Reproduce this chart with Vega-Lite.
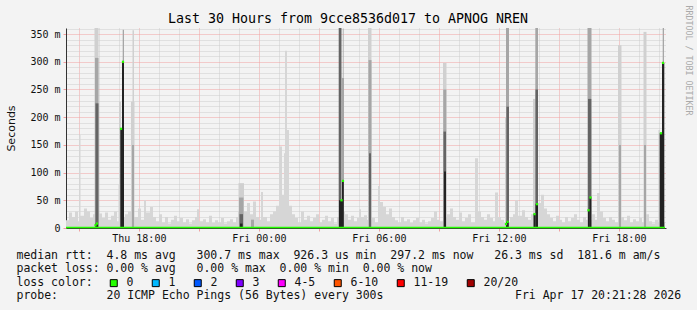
{
  "$schema": "https://vega.github.io/schema/vega-lite/v6.json",
  "width": 600,
  "height": 200,
  "autosize": {"type": "none"},
  "padding": {"left": 66, "top": 28, "right": 31, "bottom": 82},
  "background": "#f3f3f3",
  "config": {"view": {"stroke": null}, "font": "DejaVu Sans Mono"},
  "title": {"text": "Last 30 Hours from 9cce8536d017 to APNOG NREN", "font": "DejaVu Sans Mono", "fontSize": 13.3, "fontWeight": "normal", "color": "#000000", "anchor": "middle", "frame": "group", "dx": -18, "dy": 31, "offset": 0, "baseline": "alphabetic"},
  "datasets": {
    "bg": [
      {"h":14.358,"v":14},{"h":14.508,"v":28},{"h":14.658,"v":20},{"h":14.808,"v":30},{"h":14.958,"v":12},{"h":15.008,"v":168},{"h":15.083,"v":22},{"h":15.258,"v":35},{"h":15.408,"v":30},{"h":15.558,"v":18},{"h":15.708,"v":25},{"h":15.858,"v":30},{"h":16.008,"v":26},{"h":16.158,"v":18},{"h":16.308,"v":28},{"h":16.458,"v":15},{"h":16.608,"v":22},{"h":16.758,"v":30},{"h":16.908,"v":12},{"h":16.983,"v":78},{"h":17.058,"v":20},{"h":17.308,"v":25},{"h":17.458,"v":30},{"h":17.608,"v":20},{"h":17.808,"v":20},{"h":17.958,"v":35},{"h":18.108,"v":15},{"h":18.258,"v":50},{"h":18.358,"v":28},{"h":18.558,"v":38},{"h":18.708,"v":20},{"h":18.858,"v":12},{"h":19.008,"v":25},{"h":19.158,"v":10},{"h":19.308,"v":20},{"h":19.458,"v":8},{"h":19.608,"v":15},{"h":19.758,"v":22},{"h":19.908,"v":12},{"h":20.058,"v":18},{"h":20.208,"v":10},{"h":20.358,"v":16},{"h":20.508,"v":8},{"h":20.658,"v":14},{"h":20.808,"v":20},{"h":20.908,"v":34},{"h":21.008,"v":12},{"h":21.208,"v":16},{"h":21.358,"v":10},{"h":21.508,"v":22},{"h":21.658,"v":9},{"h":21.808,"v":14},{"h":21.958,"v":10},{"h":22.108,"v":18},{"h":22.258,"v":8},{"h":22.408,"v":12},{"h":22.558,"v":16},{"h":22.708,"v":10},{"h":22.858,"v":20},{"h":22.958,"v":30},{"h":23.258,"v":30},{"h":23.408,"v":45},{"h":23.558,"v":25},{"h":23.708,"v":48},{"h":23.858,"v":20},{"h":24.008,"v":15},{"h":24.108,"v":65},{"h":24.208,"v":20},{"h":24.408,"v":12},{"h":24.558,"v":25},{"h":24.708,"v":30},{"h":24.858,"v":40},{"h":25.008,"v":147},{"h":25.158,"v":60},{"h":25.258,"v":135},{"h":25.308,"v":320},{"h":25.408,"v":177},{"h":25.508,"v":40},{"h":25.658,"v":25},{"h":25.808,"v":18},{"h":25.958,"v":10},{"h":26.108,"v":30},{"h":26.258,"v":15},{"h":26.408,"v":22},{"h":26.558,"v":12},{"h":26.708,"v":18},{"h":26.858,"v":25},{"h":27.008,"v":10},{"h":27.158,"v":15},{"h":27.308,"v":22},{"h":27.458,"v":12},{"h":27.608,"v":18},{"h":27.758,"v":8},{"h":27.908,"v":20},{"h":28.008,"v":30},{"h":28.308,"v":25},{"h":28.458,"v":15},{"h":28.608,"v":22},{"h":28.758,"v":12},{"h":28.908,"v":18},{"h":29.008,"v":34},{"h":29.108,"v":20},{"h":29.258,"v":23},{"h":29.408,"v":15},{"h":29.658,"v":18},{"h":29.808,"v":10},{"h":29.958,"v":76},{"h":30.058,"v":47},{"h":30.208,"v":38},{"h":30.358,"v":25},{"h":30.508,"v":35},{"h":30.658,"v":20},{"h":30.808,"v":14},{"h":30.958,"v":10},{"h":31.108,"v":20},{"h":31.258,"v":12},{"h":31.408,"v":16},{"h":31.558,"v":9},{"h":31.708,"v":14},{"h":31.858,"v":18},{"h":32.008,"v":10},{"h":32.158,"v":15},{"h":32.308,"v":8},{"h":32.458,"v":12},{"h":32.608,"v":18},{"h":32.758,"v":30},{"h":32.908,"v":15},{"h":33.058,"v":12},{"h":33.208,"v":20},{"h":33.408,"v":25},{"h":33.558,"v":35},{"h":33.708,"v":20},{"h":33.858,"v":15},{"h":34.008,"v":28},{"h":34.158,"v":12},{"h":34.308,"v":18},{"h":34.458,"v":25},{"h":34.608,"v":10},{"h":34.808,"v":126},{"h":34.958,"v":30},{"h":35.108,"v":20},{"h":35.258,"v":15},{"h":35.408,"v":25},{"h":35.558,"v":18},{"h":35.708,"v":12},{"h":35.808,"v":64},{"h":35.958,"v":20},{"h":36.108,"v":15},{"h":36.258,"v":10},{"h":36.558,"v":20},{"h":36.708,"v":25},{"h":36.808,"v":50},{"h":36.958,"v":22},{"h":37.158,"v":32},{"h":37.308,"v":20},{"h":37.458,"v":15},{"h":37.608,"v":25},{"h":37.958,"v":45},{"h":38.108,"v":60},{"h":38.258,"v":35},{"h":38.408,"v":25},{"h":38.558,"v":18},{"h":38.708,"v":12},{"h":38.858,"v":22},{"h":39.008,"v":15},{"h":39.158,"v":10},{"h":39.308,"v":20},{"h":39.458,"v":12},{"h":39.608,"v":18},{"h":39.758,"v":25},{"h":39.908,"v":15},{"h":40.058,"v":10},{"h":40.208,"v":20},{"h":40.358,"v":15},{"h":40.658,"v":25},{"h":40.808,"v":15},{"h":40.908,"v":63},{"h":41.058,"v":30},{"h":41.208,"v":18},{"h":41.358,"v":12},{"h":41.508,"v":20},{"h":41.658,"v":15},{"h":41.808,"v":10},{"h":41.958,"v":20},{"h":42.108,"v":20},{"h":42.258,"v":14},{"h":42.408,"v":22},{"h":42.558,"v":10},{"h":42.708,"v":16},{"h":42.858,"v":12},{"h":43.008,"v":18},{"h":43.158,"v":10},{"h":43.358,"v":25},{"h":43.508,"v":12},{"h":43.658,"v":8},{"h":43.808,"v":15},{"h":43.958,"v":10},{"h":44.308,"v":0}
    ],
    "smoke": [
      {"h":15.783,"h2":15.983,"lo":0,"hi":361,"band":"a"},{"h":15.808,"h2":15.983,"lo":0,"hi":307,"band":"b"},{"h":15.833,"h2":15.983,"lo":0,"hi":225,"band":"c"},{"h":15.833,"h2":15.958,"lo":0,"hi":8,"band":"d"},
      {"h":17.008,"h2":17.108,"lo":0,"hi":228,"band":"a"},{"h":17.073,"h2":17.158,"lo":0,"hi":179,"band":"d"},{"h":17.158,"h2":17.258,"lo":0,"hi":300,"band":"d"},{"h":17.193,"h2":17.258,"lo":300,"hi":358,"band":"b"},
      {"h":17.608,"h2":17.783,"lo":0,"hi":228,"band":"a"},{"h":17.683,"h2":17.758,"lo":0,"hi":357,"band":"a"},{"h":17.658,"h2":17.758,"lo":0,"hi":150,"band":"b"},
      {"h":22.983,"h2":23.258,"lo":0,"hi":81,"band":"a"},{"h":23.008,"h2":23.233,"lo":0,"hi":55,"band":"b"},{"h":23.033,"h2":23.208,"lo":0,"hi":25,"band":"c"},{"h":23.058,"h2":23.183,"lo":0,"hi":8,"band":"d"},{"h":23.608,"h2":23.758,"lo":0,"hi":15,"band":"b"},
      {"h":27.993,"h2":28.133,"lo":0,"hi":361,"band":"c"},{"h":28.133,"h2":28.258,"lo":0,"hi":271,"band":"b"},{"h":28.198,"h2":28.238,"lo":271,"hi":360,"band":"b"},{"h":28.008,"h2":28.158,"lo":0,"hi":50,"band":"d"},{"h":28.158,"h2":28.248,"lo":0,"hi":85,"band":"d"},
      {"h":29.458,"h2":29.633,"lo":0,"hi":361,"band":"a"},{"h":29.483,"h2":29.633,"lo":0,"hi":303,"band":"b"},{"h":29.508,"h2":29.608,"lo":0,"hi":135,"band":"c"},
      {"h":33.208,"h2":33.383,"lo":0,"hi":298,"band":"a"},{"h":33.223,"h2":33.373,"lo":0,"hi":250,"band":"b"},{"h":33.233,"h2":33.358,"lo":0,"hi":174,"band":"c"},{"h":33.258,"h2":33.358,"lo":0,"hi":102,"band":"d"},
      {"h":36.308,"h2":36.358,"lo":0,"hi":200,"band":"a"},{"h":36.358,"h2":36.508,"lo":0,"hi":361,"band":"b"},{"h":36.383,"h2":36.508,"lo":0,"hi":219,"band":"c"},{"h":36.358,"h2":36.483,"lo":0,"hi":11,"band":"d"},
      {"h":37.708,"h2":37.833,"lo":0,"hi":233,"band":"a"},{"h":37.823,"h2":37.958,"lo":0,"hi":361,"band":"b"},{"h":37.833,"h2":37.958,"lo":0,"hi":250,"band":"c"},{"h":37.733,"h2":37.833,"lo":0,"hi":25,"band":"d"},{"h":37.833,"h2":37.958,"lo":0,"hi":43,"band":"d"},
      {"h":40.433,"h2":40.633,"lo":0,"hi":361,"band":"b"},{"h":40.458,"h2":40.623,"lo":0,"hi":233,"band":"c"},{"h":40.458,"h2":40.533,"lo":0,"hi":32,"band":"d"},{"h":40.533,"h2":40.623,"lo":0,"hi":55,"band":"d"},
      {"h":41.958,"h2":42.133,"lo":0,"hi":330,"band":"a"},{"h":42.008,"h2":42.108,"lo":0,"hi":150,"band":"b"},
      {"h":43.233,"h2":43.383,"lo":0,"hi":354,"band":"a"},{"h":43.258,"h2":43.358,"lo":0,"hi":150,"band":"b"},
      {"h":43.983,"h2":44.058,"lo":0,"hi":177,"band":"a"},{"h":44.043,"h2":44.158,"lo":0,"hi":171,"band":"d"},{"h":44.158,"h2":44.273,"lo":0,"hi":298,"band":"d"},{"h":44.193,"h2":44.258,"lo":298,"hi":361,"band":"b"}
    ],
    "base": [
      {"h":14.358,"h2":44.308,"med":1}
    ],
    "med": [
      {"h":15.833,"med":5,"loss":"0"},{"h":15.908,"med":8,"loss":"0"},{"h":17.108,"med":179,"loss":"0"},{"h":17.208,"med":300,"loss":"0"},{"h":28.133,"med":50,"loss":"0"},{"h":28.208,"med":85,"loss":"0"},{"h":36.358,"med":7,"loss":"0"},{"h":36.433,"med":11,"loss":"0"},{"h":37.783,"med":25,"loss":"0"},{"h":37.908,"med":43,"loss":"0"},{"h":40.483,"med":32,"loss":"0"},{"h":40.583,"med":55,"loss":"0"},{"h":44.108,"med":171,"loss":"0"},{"h":44.208,"med":298,"loss":"0"}
    ]
  },
  "encoding": {
    "x": {
      "field": "h",
      "type": "quantitative",
      "scale": {"domain": [14.358, 44.358], "nice": false, "zero": false},
      "title": [
        "median rtt:\u00a0\u00a04.8 ms avg\u00a0\u00a0\u00a0300.7 ms max\u00a0\u00a0926.3 us min\u00a0\u00a0297.2 ms now\u00a0\u00a0\u00a026.3 ms sd\u00a0\u00a0181.6 m am/s",
        "packet loss: 0.00 % avg\u00a0\u00a0\u00a00.00 % max\u00a0\u00a00.00 % min\u00a0\u00a00.00 % now",
        "loss color:",
        "probe:\u00a0\u00a0\u00a0\u00a0\u00a0\u00a0\u00a020 ICMP Echo Pings (56 Bytes) every 300s\u00a0\u00a0\u00a0\u00a0\u00a0\u00a0\u00a0\u00a0\u00a0\u00a0\u00a0\u00a0\u00a0\u00a0\u00a0\u00a0\u00a0\u00a0\u00a0Fri Apr 17 20:21:28 2026"
      ],
      "axis": {
        "values": [15,16,17,18,19,20,21,22,23,24,25,26,27,28,29,30,31,32,33,34,35,36,37,38,39,40,41,42,43,44],
        "grid": true,
        "gridColor": {"condition": {"test": "datum.value % 3 === 0", "value": "#f0a0a0"}, "value": "#cccccc"},
        "gridDash": [1, 1],
        "gridWidth": 1,
        "gridOpacity": 1,
        "ticks": true,
        "tickSize": 3,
        "tickColor": {"condition": {"test": "datum.value % 3 === 0", "value": "#f0a0a0"}, "value": "transparent"},
        "domainColor": "#333333",
        "labelExpr": "datum.value % 6 === 0 ? (datum.value < 24 ? 'Thu ' : 'Fri ') + (datum.value % 24 < 10 ? '0' : '') + (datum.value % 24) + ':00' : ''",
        "labelFont": "DejaVu Sans Mono",
        "labelFontSize": 10,
        "labelColor": "#111111",
        "labelPadding": 2,
        "labelFlush": false,
        "labelOverlap": false,
        "titleFont": "DejaVu Sans Mono",
        "titleFontSize": 11.5,
        "titleFontWeight": "normal",
        "titleColor": "#111111",
        "titleAnchor": "start",
        "titleAlign": "left",
        "titleBaseline": "alphabetic",
        "titleX": -50,
        "titleY": 30,
        "titleLineHeight": 13.6
      }
    }
  },
  "layer": [
    {
      "data": {"name": "bg"},
      "mark": {"type": "area", "interpolate": "step-after", "color": "#d6d6d6"},
      "encoding": {
        "y": {
          "field": "v",
          "type": "quantitative",
          "title": "Seconds",
          "scale": {"domain": [0, 361], "nice": false},
          "axis": {
            "values": [0,10,20,30,40,50,60,70,80,90,100,110,120,130,140,150,160,170,180,190,200,210,220,230,240,250,260,270,280,290,300,310,320,330,340,350,360],
            "grid": true,
            "gridColor": {"condition": {"test": "datum.value % 50 === 0", "value": "#f0a0a0"}, "value": "#cccccc"},
            "gridDash": [1, 1],
            "gridWidth": 1,
            "gridOpacity": 1,
            "tickSize": 3,
            "tickColor": {"condition": {"test": "datum.value % 50 === 0", "value": "#f0a0a0"}, "value": "transparent"},
            "domainColor": "#333333",
            "labelExpr": "datum.value % 50 === 0 ? (datum.value === 0 ? '0' : datum.value + ' m') : ''",
            "labelFont": "DejaVu Sans Mono",
            "labelFontSize": 10,
            "labelColor": "#111111",
            "labelPadding": 3,
            "labelOverlap": false,
            "labelFlush": false,
            "titleFont": "DejaVu Sans",
            "titleFontSize": 11,
            "titleFontWeight": "normal",
            "titleColor": "#111111",
            "titlePadding": 13
          }
        }
      }
    },
    {
      "data": {"name": "smoke"},
      "mark": {"type": "rect"},
      "encoding": {
        "x2": {"field": "h2"},
        "y": {"field": "lo", "type": "quantitative", "scale": {"domain": [0, 361], "nice": false}, "axis": null},
        "y2": {"field": "hi"},
        "fill": {"field": "band", "type": "nominal", "scale": {"domain": ["a","b","c","d"], "range": ["#d0d0d0","#a6a6a6","#646464","#222222"]}, "legend": null}
      }
    },
    {
      "data": {"name": "base"},
      "mark": {"type": "rule", "color": "#26ff00", "strokeWidth": 1.5},
      "encoding": {
        "x2": {"field": "h2"},
        "y": {
          "field": "med",
          "type": "quantitative",
          "scale": {"domain": [0, 361], "nice": false},
          "title": "RRDTOOL / TOBI OETIKER",
          "axis": {
            "orient": "right",
            "labels": false,
            "ticks": false,
            "domain": false,
            "grid": false,
            "titleAngle": 90,
            "titleFont": "DejaVu Sans Mono",
            "titleFontSize": 8.3,
            "titleFontWeight": "normal",
            "titleColor": "#aaaaaa",
            "titleAlign": "left",
            "titleBaseline": "middle",
            "titleX": 21,
            "titleY": -23
          }
        }
      }
    },
    {
      "data": {"name": "med"},
      "mark": {"type": "square", "size": 5, "opacity": 1, "filled": true},
      "encoding": {
        "y": {"field": "med", "type": "quantitative", "scale": {"domain": [0, 361], "nice": false}, "axis": null},
        "color": {
          "field": "loss",
          "type": "nominal",
          "scale": {"domain": ["0","1","2","3","4-5","6-10","11-19","20/20"], "range": ["#26ff00","#00b8ff","#0059ff","#7e00ff","#ff00ff","#ff5500","#ff0000","#a10000"]},
          "legend": {
            "orient": "none",
            "legendX": 42,
            "legendY": 249,
            "direction": "horizontal",
            "title": null,
            "padding": 0,
            "symbolType": "square",
            "symbolSize": 49,
            "symbolStrokeColor": "#000000",
            "symbolStrokeWidth": 1,
            "symbolOpacity": 1,
            "labelFont": "DejaVu Sans Mono",
            "labelFontSize": 11.5,
            "labelColor": "#111111",
            "labelOffset": 7,
            "columnPadding": 16
          }
        }
      }
    }
  ],
  "resolve": {"axis": {"y": "independent"}}
}
